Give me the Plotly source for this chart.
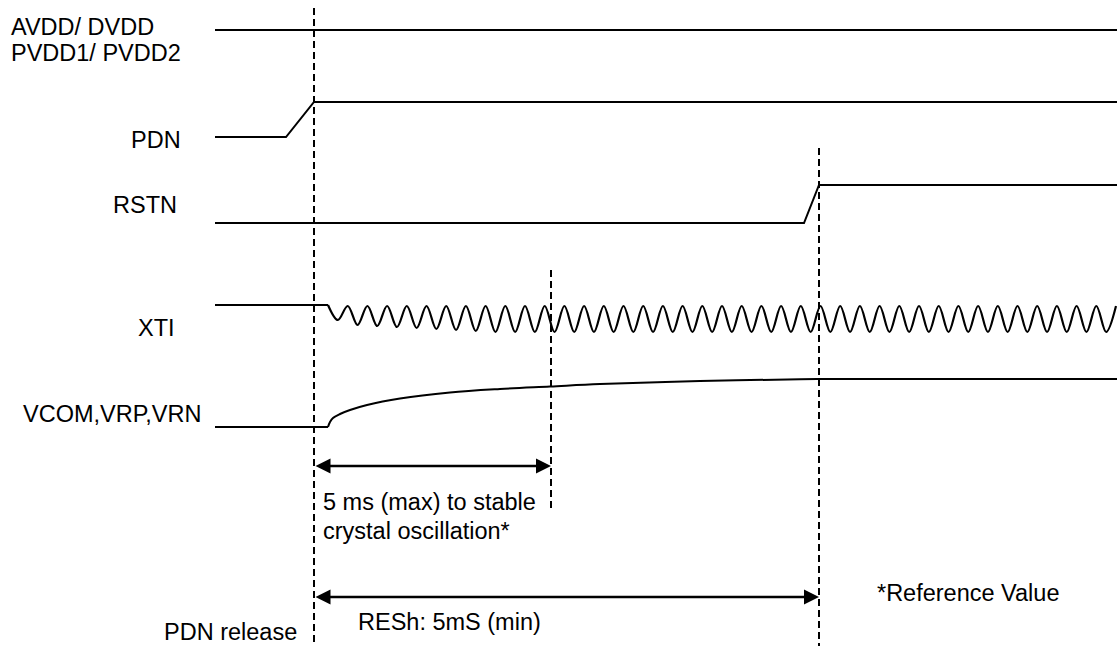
import plotly.graph_objects as go

# ---- signal data (pixel-space timing coordinates) ----
# supply rail
avdd_x = [215, 1117]
avdd_y = [30, 30]

# PDN: low -> rising edge -> high
pdn_x = [215, 286, 314, 1117]
pdn_y = [137, 137, 102, 102]

# RSTN: low -> rising edge -> high
rstn_x = [215, 804, 819, 1117]
rstn_y = [223, 223, 185, 185]

# XTI: flat, then oscillation; peaks stay at one level, troughs deepen then settle
xti_flat_x = [215, 328]
xti_flat_y = [305, 305]
xti_osc_start = 328
xti_period = 19.7
xti_cycles = 40
xti_peak_level = 306
xti_trough_levels = [320, 325, 326, 327, 328, 329, 330, 331, 332]

# VCOM/VRP/VRN: flat, then slow charging curve, then flat
vcom_flat1_x = [215, 328]
vcom_flat1_y = [427, 427]
vcom_curve_x = [328, 330, 333, 340, 350, 367, 400, 450, 500, 550, 600, 700, 800, 817]
vcom_curve_y = [427, 422, 418, 414, 410, 405, 398.5, 392.5, 389, 386.5, 384, 381, 379.3, 379]
vcom_flat2_x = [817, 1117]
vcom_flat2_y = [379, 379]

# timing markers (dashed verticals)
marker_x = [314, 551, 819]
marker_top = [8, 270, 148]
marker_bottom = [646, 508, 646]

# dimension arrows
arrow_start = [314, 314]
arrow_end = [551, 819]
arrow_y = [466, 597]

# labels
labels = [
    ("AVDD/ DVDD", 9, 27, "left"),
    ("PVDD1/ PVDD2", 9, 53, "left"),
    ("PDN", 129, 140, "left"),
    ("RSTN", 111, 205, "left"),
    ("XTI", 136, 328, "left"),
    ("VCOM,VRP,VRN", 21, 414, "left"),
    ("5 ms (max) to stable", 321, 502, "left"),
    ("crystal oscillation*", 321, 531, "left"),
    ("*Reference Value", 875, 593, "left"),
    ("RESh: 5mS (min)", 449, 622, "center"),
    ("PDN release", 162, 632, "left"),
]

FONT = "Liberation Sans, Arial, sans-serif"
FS = 23.5
BLACK = "#000000"

fig = go.Figure()

def solid(x, y, shape="linear", width=2):
    fig.add_trace(go.Scatter(x=x, y=y, mode="lines",
                             line=dict(color=BLACK, width=width, shape=shape),
                             hoverinfo="skip", showlegend=False))

solid(avdd_x, avdd_y)
solid(pdn_x, pdn_y)
solid(rstn_x, rstn_y)
solid(xti_flat_x, xti_flat_y)

# XTI oscillation through extrema
ox = [xti_osc_start]
oy = [xti_flat_y[-1]]
for k in range(xti_cycles):
    t = xti_trough_levels[min(k, len(xti_trough_levels) - 1)]
    ox.append(xti_osc_start + (k + 0.5) * xti_period)
    oy.append(t)
    ox.append(xti_osc_start + (k + 1) * xti_period)
    oy.append(xti_peak_level)
fig.add_trace(go.Scatter(x=ox, y=oy, mode="lines",
                         line=dict(color=BLACK, width=2.2, shape="spline", smoothing=1.0),
                         hoverinfo="skip", showlegend=False))

solid(vcom_flat1_x, vcom_flat1_y)
solid(vcom_curve_x, vcom_curve_y, shape="spline")
solid(vcom_flat2_x, vcom_flat2_y)

# dashed markers
for mx, t, b in zip(marker_x, marker_top, marker_bottom):
    fig.add_trace(go.Scatter(x=[mx, mx], y=[t, b], mode="lines",
                             line=dict(color=BLACK, width=2, dash="7px,4px"),
                             hoverinfo="skip", showlegend=False))

# double-headed arrows
for xs, xe, ay in zip(arrow_start, arrow_end, arrow_y):
    fig.add_annotation(x=xe, y=ay, ax=xs, ay=ay, xref="x", yref="y",
                       axref="x", ayref="y", text="", showarrow=True,
                       arrowhead=2, startarrowhead=2, arrowside="end+start",
                       arrowsize=1.2, startarrowsize=1.2, arrowwidth=2.5,
                       arrowcolor=BLACK)

for text, x, y, anchor in labels:
    fig.add_annotation(x=x, y=y, xref="x", yref="y", text=text, showarrow=False,
                       xanchor=anchor, yanchor="middle",
                       font=dict(family=FONT, size=FS, color=BLACK))

fig.update_layout(
    width=1117, height=646,
    margin=dict(l=0, r=0, t=0, b=0),
    paper_bgcolor="white", plot_bgcolor="white",
    xaxis=dict(range=[0, 1117], visible=False, fixedrange=True),
    yaxis=dict(range=[646, 0], visible=False, fixedrange=True),
)

fig.write_html(
    "out.html",
    config={"displayModeBar": False},
    post_script="document.body.style.margin='0';document.body.style.overflow='hidden';",
)
